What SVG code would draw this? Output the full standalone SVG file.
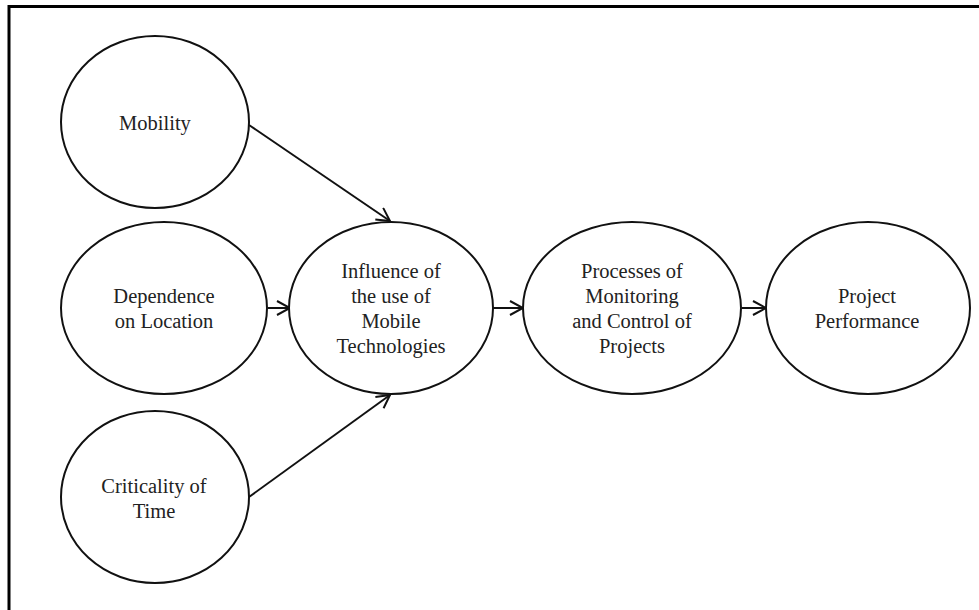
<svg xmlns="http://www.w3.org/2000/svg" width="979" height="610" viewBox="0 0 979 610">
<style>
.node ellipse{fill:#fff;stroke:#111;stroke-width:2}
.node text{font-family:"Liberation Serif","Times New Roman",serif;font-size:20.5px;fill:#222;text-anchor:middle}
.conn line{stroke:#111;stroke-width:2;fill:none}
.frame{stroke:#000;stroke-width:3;fill:none}
</style>
<defs>
<marker id="arr" viewBox="0 0 16 16" refX="14.5" refY="8" markerWidth="16" markerHeight="16" markerUnits="userSpaceOnUse" orient="auto">
<path d="M1.5,1 L14.5,8 L1.5,15" fill="none" stroke="#111" stroke-width="2"/>
</marker>
</defs>
<rect width="979" height="610" fill="#fff"/>
<path class="frame" d="M9,610 V6.5 H979"/>
<g class="conn">
<line x1="249" y1="125" x2="390" y2="221" marker-end="url(#arr)"/>
<line x1="249" y1="497" x2="390" y2="395" marker-end="url(#arr)"/>
<line x1="268" y1="308" x2="290" y2="308" marker-end="url(#arr)"/>
<line x1="493" y1="308" x2="523" y2="308" marker-end="url(#arr)"/>
<line x1="742" y1="308" x2="766" y2="308" marker-end="url(#arr)"/>
</g>
<g class="node" id="mobility">
<ellipse cx="155" cy="122" rx="94" ry="86"/>
<text x="155" y="130">Mobility</text>
</g>
<g class="node" id="dependence">
<ellipse cx="164" cy="308" rx="103" ry="86"/>
<text x="164" y="303">Dependence</text>
<text x="164" y="328">on Location</text>
</g>
<g class="node" id="criticality">
<ellipse cx="155" cy="497" rx="94" ry="86"/>
<text x="154" y="493">Criticality of</text>
<text x="154" y="518">Time</text>
</g>
<g class="node" id="influence">
<ellipse cx="391" cy="308" rx="102" ry="86"/>
<text x="391" y="278">Influence of</text>
<text x="391" y="303">the use of</text>
<text x="391" y="328">Mobile</text>
<text x="391" y="353">Technologies</text>
</g>
<g class="node" id="processes">
<ellipse cx="632" cy="308" rx="109" ry="86"/>
<text x="632" y="278">Processes of</text>
<text x="632" y="303">Monitoring</text>
<text x="632" y="328">and Control of</text>
<text x="632" y="353">Projects</text>
</g>
<g class="node" id="performance">
<ellipse cx="868" cy="308" rx="102" ry="86"/>
<text x="867" y="303">Project</text>
<text x="867" y="328">Performance</text>
</g>
</svg>
